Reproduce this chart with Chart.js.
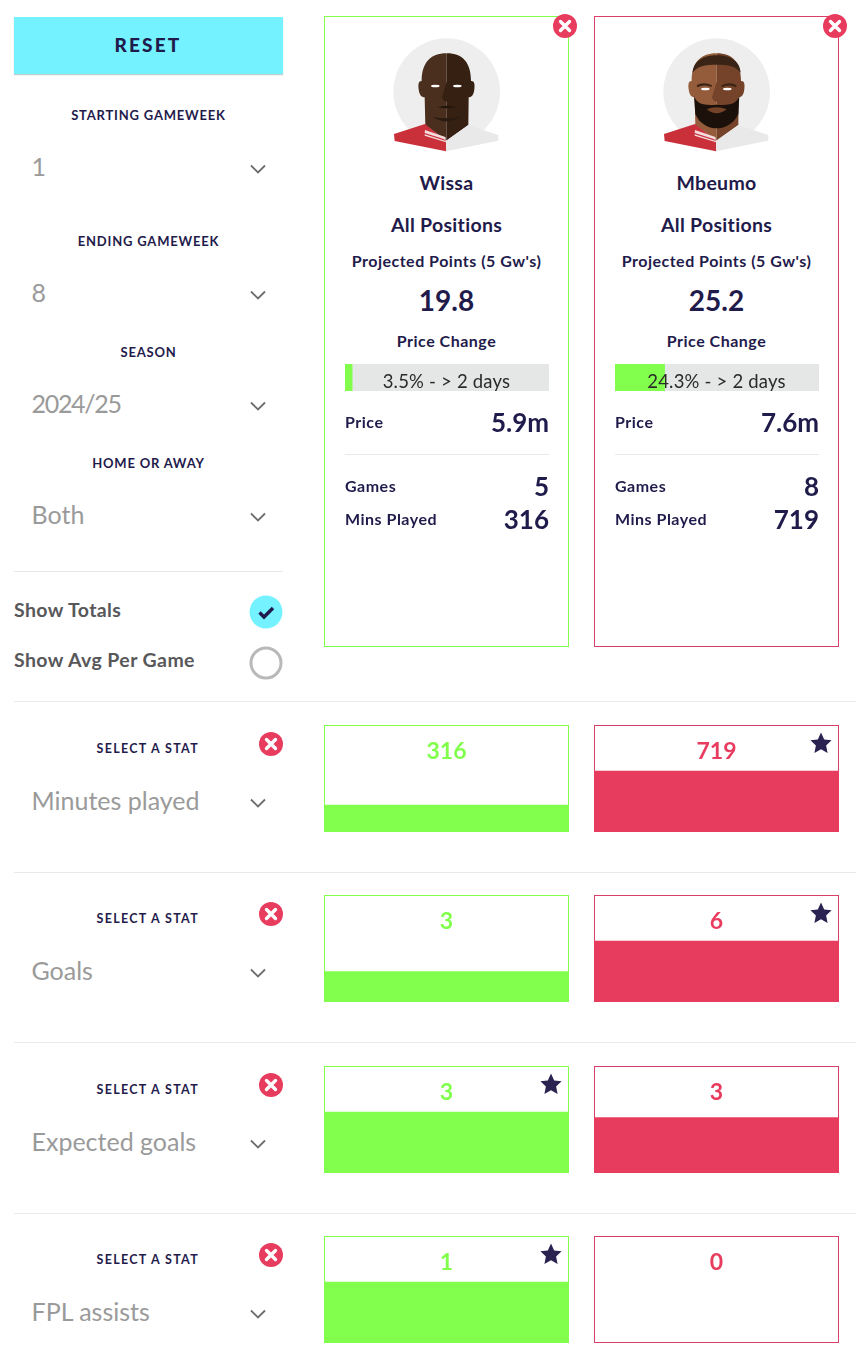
<!DOCTYPE html>
<html>
<head>
<meta charset="utf-8">
<title>Player comparison</title>
<script src="https://cdn.jsdelivr.net/npm/chart.js@4/dist/chart.umd.js"></script>
<style>
    html, body { margin: 0; padding: 0; background: #fff; overflow: hidden; }
    #page { position: relative; width: 856px; height: 1366px; font-family: Lato, sans-serif; color: #1f1b4b; }
    #page div, #page canvas, #page svg { position: absolute; }
    .t { white-space: nowrap; line-height: 1; }
    .reset { left: 14px; top: 17px; width: 269px; height: 57px; background: #74f2ff; box-shadow: 0 1px 1px #c4cdd0; }
    .resetText { font-size: 19px; font-weight: 900; letter-spacing: 2.2px; }
    .label { font-size: 13px; font-weight: 700; letter-spacing: 0.8px; }
    .statLabel { font-size: 12.5px; font-weight: 700; letter-spacing: 1.3px; }
    .drop { font-size: 25px; color: #9a9a9a; }
    .toggle { font-size: 19.5px; font-weight: 700; color: #58585a; letter-spacing: 0.4px; }
    .line { height: 1px; background: #e9e9e9; }
    .card { width: 243px; height: 629px; top: 16px; border: 1px solid; }
    .name { font-size: 19.5px; font-weight: 700; letter-spacing: 0.3px; }
    .sub { font-size: 16px; font-weight: 700; letter-spacing: 0.5px; }
    .big { font-size: 28px; font-weight: 700; }
    .val { font-size: 26px; font-weight: 700; }
    .barText { font-size: 18.5px; color: #2b2b2b; letter-spacing: 0.2px; }
    .box { width: 243px; height: 105px; border: 1px solid; }
    .boxVal { font-size: 23px; font-weight: 700; }
</style>
</head>
<body>
<div id="page"></div>
<script>
// chart data
const players = ['Wissa', 'Mbeumo'];
const projected = [19.8, 25.2];
const priceChange = [3.5, 24.3];
const prices = ['5.9m', '7.6m'];
const games = [5, 8];
const minsPlayed = [316, 719];

const statNames = ['Minutes played', 'Goals', 'Expected goals', 'FPL assists'];
const wissaStats = [316, 3, 3.3, 1];
const mbeumoStats = [719, 6, 3, 0];

const filterLabels = ['STARTING GAMEWEEK', 'ENDING GAMEWEEK', 'SEASON', 'HOME OR AWAY'];
const filterValues = ['1', '8', '2024/25', 'Both'];

const GREEN = '#82ff4d';
const RED = '#e83c5f';
const NAVY = '#2a2250';

const page = document.getElementById('page');

function addText(text, x, y, cls, align) {
    const el = document.createElement('div');
    el.className = 't ' + cls;
    el.textContent = text;
    const shift = align === 'center' ? '-50%' : align === 'right' ? '-100%' : '0';
    el.style.left = x + 'px';
    el.style.top = y + 'px';
    el.style.transform = 'translate(' + shift + ', -50%)';
    page.appendChild(el);
    return el;
}

function addBlock(cls, styles) {
    const el = document.createElement('div');
    el.className = cls;
    Object.assign(el.style, styles);
    page.appendChild(el);
    return el;
}

function addSvg(x, y, w, h, viewBox, inner) {
    page.insertAdjacentHTML('beforeend',
        '<svg style="left:' + x + 'px;top:' + y + 'px" width="' + w + '" height="' + h + '" viewBox="' + viewBox + '">' + inner + '</svg>');
}

function addChevron(cx, cy) {
    addSvg(cx - 9, cy - 6, 18, 12, '0 0 18 12', '<path d="M2 2.5 L9 9.5 L16 2.5" fill="none" stroke="#6d6d6d" stroke-width="1.8"/>');
}

function addClose(cx, cy) {
    addSvg(cx - 12, cy - 12, 24, 24, '0 0 24 24',
        '<circle cx="12" cy="12" r="12" fill="' + RED + '"/><path d="M7.5 7.5 L16.5 16.5 M16.5 7.5 L7.5 16.5" stroke="#fff" stroke-width="3.4" stroke-linecap="round"/>');
}

function addStar(cx, cy) {
    addSvg(cx - 11, cy - 11, 22, 22, '0 0 22 22',
        '<path d="M11 0.5 L14.2 7.4 L21.6 8.3 L16.1 13.4 L17.6 20.9 L11 17.2 L4.4 20.9 L5.9 13.4 L0.4 8.3 L7.8 7.4 Z" fill="' + NAVY + '"/>');
}

function addAvatar(x, skin, shade, hair, beard) {
    let extra = '';
    if (beard) {
        extra = '<path d="M312 258 C322 285 345 286 380 284 C415 286 438 285 448 258 L445 312 C430 345 400 355 380 355 C360 355 330 345 316 312 Z" fill="' + beard + '"/>' +
            '<path d="M350 298 Q380 286 410 298 Q380 322 350 298 Z" fill="' + shade + '"/>' +
            '<path d="M320 226 Q340 214 366 226 L364 231 Q340 222 322 232 Z M394 226 Q420 214 440 226 L438 232 Q420 222 396 231 Z" fill="' + hair + '"/>';
    } else {
        extra = '<path d="M352 292 Q380 282 408 292 Q380 298 352 292 Z" fill="#24160d"/>' +
            '<path d="M338 320 Q380 330 422 320 Q400 334 380 334 Q360 334 338 320 Z" fill="#2a1a10"/>';
    }
    const hairPath = beard
        ? '<path d="M308 188 C310 152 342 136 380 136 C418 136 450 152 452 188 C438 168 415 164 380 164 C345 164 322 168 308 188 Z" fill="' + hair + '"/>'
        : '';
    addSvg(x, 10, 260, 150, '0 0 780 450',
        '<circle cx="380" cy="245" r="160" fill="#eeeeee"/>' +
        '<path d="M380 130 C330 130 305 160 305 213 C296 212 294 222 296 238 C298 255 304 262 314 262 L316 345 L380 392 Z" fill="' + skin + '"/>' +
        '<path d="M380 130 C430 130 453 160 453 213 C463 212 465 222 463 238 C461 255 455 262 446 262 L445 345 L380 392 Z" fill="' + shade + '"/>' +
        hairPath +
        '<path d="M380 215 L366 262 Q370 275 380 275 L394 262 Z" fill="' + shade + '"/>' +
        extra +
        '<ellipse cx="346" cy="' + (beard ? 237 : 228) + '" rx="13" ry="4" fill="#fff"/>' +
        '<ellipse cx="412" cy="' + (beard ? 237 : 228) + '" rx="13" ry="4" fill="#fff"/>' +
        '<path d="M222 372 L315 342 L378 392 L378 424 L224 393 Z" fill="#c9303a"/>' +
        '<path d="M315 360 L376 381 L378 389 L314 369 Z M314 373 L378 393 L378 397 L314 377 Z" fill="#f4dcdc"/>' +
        '<path d="M378 392 L445 345 L535 375 L535 392 L378 424 Z" fill="#e9e9e9"/>');
}

function barOptions(indexAxis, axisMax) {
    const valueAxis = { display: false, min: 0, max: axisMax };
    const catAxis = { display: false };
    return {
        indexAxis: indexAxis,
        responsive: false,
        animation: false,
        layout: { padding: 0 },
        plugins: { legend: { display: false }, tooltip: { enabled: false } },
        scales: indexAxis === 'y' ? { x: valueAxis, y: catAxis } : { x: catAxis, y: valueAxis }
    };
}

function addBarChart(x, y, w, h, label, value, color, indexAxis, axisMax, background) {
    const canvas = document.createElement('canvas');
    canvas.width = w;
    canvas.height = h;
    canvas.style.left = x + 'px';
    canvas.style.top = y + 'px';
    if (background) canvas.style.background = background;
    page.appendChild(canvas);
    new Chart(canvas, {
        type: 'bar',
        data: {
            labels: [label],
            datasets: [{
                data: [value],
                backgroundColor: color,
                borderWidth: 0,
                barPercentage: 1,
                categoryPercentage: 1
            }]
        },
        options: barOptions(indexAxis, axisMax)
    });
}

// left column
addBlock('reset', {});
addText('RESET', 148, 44, 'resetText', 'center');
const filterLabelY = [115, 241, 352, 463];
const filterValueY = [166, 292, 403, 514];
filterLabels.forEach((label, i) => {
    addText(label, 148.5, filterLabelY[i], 'label', 'center');
    const el = addText(filterValues[i], 31.5, filterValueY[i], 'drop');
    if (i === 2) el.style.letterSpacing = '-1.3px';
    addChevron(258, filterValueY[i] + 3);
});
addBlock('line', { left: '14px', top: '571px', width: '269px' });
addText('Show Totals', 14, 610, 'toggle');
addText('Show Avg Per Game', 14, 660, 'toggle');
addSvg(249, 595, 34, 34, '0 0 34 34',
    '<circle cx="17" cy="17" r="16.5" fill="#74f2ff"/><path d="M10.5 17.5 L15 22 L24 13" fill="none" stroke="#1f1b4b" stroke-width="3.4"/>');
addSvg(249, 646, 34, 34, '0 0 34 34',
    '<circle cx="17" cy="17" r="15" fill="#fff" stroke="#b9b9b9" stroke-width="3"/>');

// player cards
const cardLeft = [324, 594];
const cardColors = [GREEN, '#d8406a'];
players.forEach((name, i) => {
    const left = cardLeft[i];
    const mid = left + 122.5;
    const inner = left + 21;
    const right = left + 225;
    addBlock('card', { left: left + 'px', borderColor: cardColors[i] });
    addClose(left + 241, 26);
    if (i === 0) addAvatar(left - 4, '#4a2f1e', '#352012', null, null);
    else addAvatar(left - 4, '#945c3b', '#744329', '#3a2416', '#1b100a');
    addText(name, mid, 183, 'name', 'center');
    addText('All Positions', mid, 225, 'name', 'center');
    addText("Projected Points (5 Gw's)", mid, 261, 'sub', 'center');
    addText(projected[i].toFixed(1), mid, 300, 'big', 'center');
    addText('Price Change', mid, 341, 'sub', 'center');
    addBarChart(inner, 364, 204, 27, 'Price change', priceChange[i], GREEN, 'y', 100, '#e5e6e6');
    addText(priceChange[i] + '% - > 2 days', mid, 381, 'barText', 'center');
    addText('Price', inner, 422, 'sub');
    addText(prices[i], right, 422, 'val', 'right');
    addBlock('line', { left: inner + 'px', top: '454px', width: '204px' });
    addText('Games', inner, 486, 'sub');
    addText(String(games[i]), right, 486, 'val', 'right');
    addText('Mins Played', inner, 519, 'sub');
    addText(String(minsPlayed[i]), right, 519, 'val', 'right');
});

// stat rows, tallest bar in a row takes a bit over half of the box
const rowLineY = [701, 872, 1042, 1213];
const rowBoxY = [725, 895, 1066, 1236];
statNames.forEach((stat, r) => {
    const top = rowBoxY[r];
    addBlock('line', { left: '14px', top: rowLineY[r] + 'px', width: '842px' });
    addText('SELECT A STAT', 199, top + 24, 'statLabel', 'right');
    addClose(271, top + 18.5);
    addText(stat, 31.5, top + 75, 'drop');
    addChevron(258, top + 78);

    const values = [wissaStats[r], mbeumoStats[r]];
    const best = Math.max(values[0], values[1]);
    const colors = [GREEN, RED];
    values.forEach((value, i) => {
        const left = cardLeft[i];
        addBlock('box', { left: left + 'px', top: top + 'px', borderColor: cardColors[i] });
        addBarChart(left, top, 245, 107, stat, value, colors[i], 'x', best / 0.57, null);
        const label = addText(String(Math.round(value)), left + 122.5, top + 25, 'boxVal', 'center');
        label.style.color = colors[i];
        if (value === best) addStar(left + 227, top + 17.5);
    });
});
</script>
</body>
</html>
